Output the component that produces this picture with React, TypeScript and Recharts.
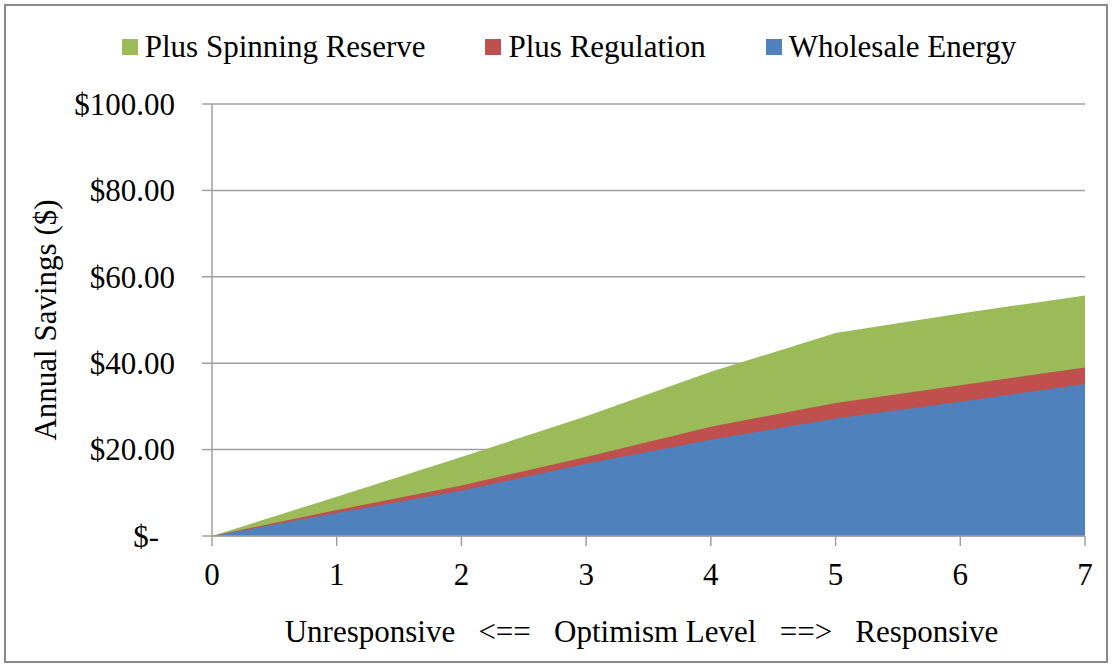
import { AreaChart, Area, XAxis, YAxis, CartesianGrid } from 'recharts';

// optimism levels on the x axis
const levels = [0, 1, 2, 3, 4, 5, 6, 7];
// cumulative annual savings ($)
const spinningReserve = [0, 9.1, 18.3, 27.7, 38.0, 47.0, 51.5, 55.7];
const regulation = [0, 6.0, 11.7, 18.3, 25.3, 30.8, 34.9, 39.0];
const wholesaleEnergy = [0, 5.3, 10.5, 16.7, 22.3, 27.2, 31.1, 35.2];
const yTicks = [0, 20, 40, 60, 80, 100];

const series = [
  { key: 'spinning', name: 'Plus Spinning Reserve', color: '#9BBB59' },
  { key: 'regulation', name: 'Plus Regulation', color: '#C0504D' },
  { key: 'wholesale', name: 'Wholesale Energy', color: '#4F81BD' },
];

const data = levels.map((x, i) => ({
  x,
  spinning: spinningReserve[i],
  regulation: regulation[i],
  wholesale: wholesaleEnergy[i],
}));

const FONT = 'Liberation Serif, Times New Roman, serif';
const AXIS = '#a0a0a0';

function YTick({ x, y, payload }: any) {
  const v = payload.value;
  // Excel accounting format shows zero as "$-"
  const label = v === 0 ? '$-' : `$${v.toFixed(2)}`;
  return (
    <text x={x - (v === 0 ? 16 : 0)} y={y} dy="0.35em" textAnchor="end" style={{ fontFamily: FONT }} fontSize={31} fill="#000">
      {label}
    </text>
  );
}

function XTick({ x, y, payload }: any) {
  return (
    <text x={x} y={y} dy="1em" textAnchor="middle" style={{ fontFamily: FONT }} fontSize={31} fill="#000">
      {payload.value}
    </text>
  );
}

function YTitle({ viewBox }: any) {
  const cx = viewBox.x + 45;
  const cy = viewBox.y + viewBox.height / 2;
  return (
    <text x={cx} y={cy} dy="0.35em" textAnchor="middle" transform={`rotate(-90, ${cx}, ${cy})`} style={{ fontFamily: FONT }} fontSize={31} fill="#000">
      Annual Savings ($)
    </text>
  );
}

function XTitle({ viewBox }: any) {
  const cx = viewBox.x + viewBox.width / 2 - 7;
  return (
    <text x={cx} y={viewBox.y + 106} textAnchor="middle" fontSize={31} fill="#000" style={{ fontFamily: FONT, whiteSpace: 'pre' }}>
      {'Unresponsive   <==   Optimism Level   ==>   Responsive'}
    </text>
  );
}

export default function App() {
  return (
    <div style={{ position: 'absolute', left: 0, top: 0, width: 1112, height: 666, background: '#fff', fontFamily: FONT }}>
      <div
        style={{
          position: 'absolute', left: 4, top: 4, width: 1104, height: 659,
          border: '2px solid #8a8a8a', boxSizing: 'border-box', pointerEvents: 'none',
        }}
      />
      {/* legend */}
      <div
        style={{
          position: 'absolute', left: 0, top: 29, width: 1112, paddingLeft: 26, boxSizing: 'border-box',
          display: 'flex', justifyContent: 'center', alignItems: 'center', gap: 60,
          fontFamily: FONT, fontSize: 31, lineHeight: '36px', color: '#000',
        }}
      >
        {series.map((s) => (
          <div key={s.key} style={{ display: 'flex', alignItems: 'center' }}>
            <span style={{ width: 16, height: 16, background: s.color, marginRight: 7, display: 'inline-block' }} />
            <span style={{ whiteSpace: 'nowrap' }}>{s.name}</span>
          </div>
        ))}
      </div>
      <AreaChart width={1112} height={666} data={data} margin={{ top: 104, right: 27, bottom: 0, left: 0 }}>
        <CartesianGrid vertical={false} stroke={AXIS} strokeWidth={1.5} />
        <XAxis
          dataKey="x"
          type="number"
          domain={[0, 7]}
          ticks={levels}
          height={130}
          stroke={AXIS}
          strokeWidth={1.5}
          tickSize={10}
          tickMargin={8}
          tick={<XTick />}
          label={<XTitle />}
        />
        <YAxis
          domain={[0, 100]}
          ticks={yTicks}
          width={212}
          stroke={AXIS}
          strokeWidth={1.5}
          tickSize={10}
          tickMargin={27}
          tick={<YTick />}
          label={<YTitle />}
        />
        {/* drawn back to front: spinning total, then regulation, then wholesale */}
        {series.map((s) => (
          <Area
            key={s.key}
            type="linear"
            dataKey={s.key}
            name={s.name}
            fill={s.color}
            fillOpacity={1}
            stroke="none"
            isAnimationActive={false}
          />
        ))}
      </AreaChart>
    </div>
  );
}
